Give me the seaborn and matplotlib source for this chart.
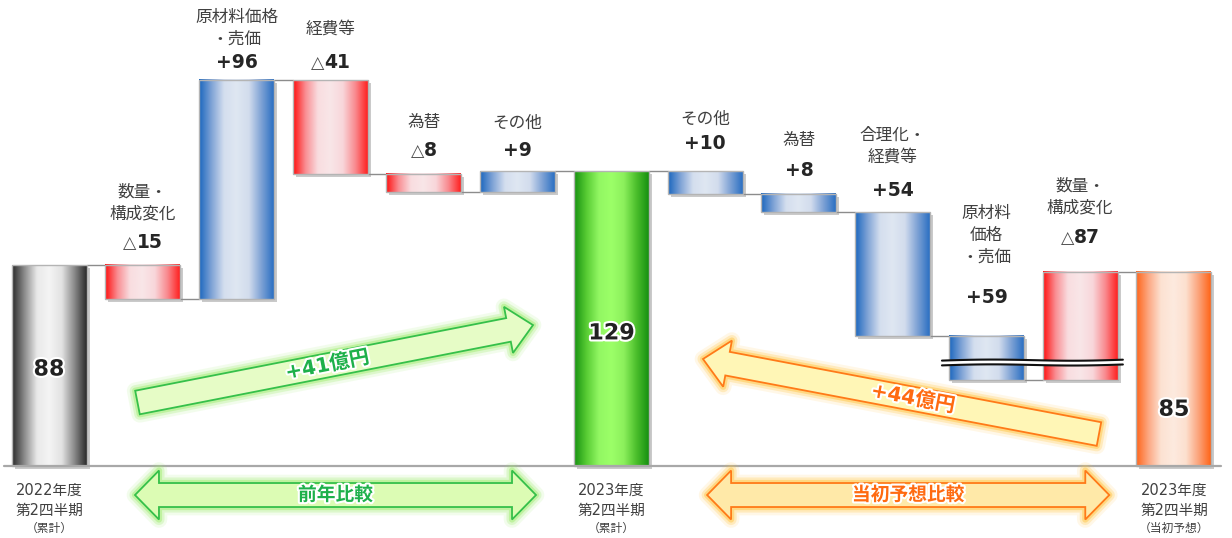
import numpy as np
import pandas as pd
import matplotlib
matplotlib.use("Agg")
import matplotlib.pyplot as plt
import seaborn as sns
from matplotlib.colors import LinearSegmentedColormap
from matplotlib.patches import Polygon, Rectangle
from matplotlib import patheffects as pe
from matplotlib.transforms import IdentityTransform, offset_copy
from matplotlib.offsetbox import TextArea, HPacker, AnnotationBbox

# ---------------- data ----------------
start_total = 88                     # 2022年度 第2四半期（累計）
yoy_items = ["数量・\n構成変化", "原材料価格\n・売価", "経費等", "為替", "その他"]
yoy_values = [-15, 96, -41, -8, 9]
mid_total = 129                      # 2023年度 第2四半期（累計）
plan_items = ["その他", "為替", "合理化・\n経費等", "原材料\n価格\n・売価", "数量・\n構成変化"]
plan_values = [10, 8, 54, 59, -87]   # 実績 − 当初予想
end_total = 85                       # 2023年度 第2四半期（当初予想）
total_names = ["2022年度\n第2四半期", "2023年度\n第2四半期", "2023年度\n第2四半期"]
total_notes = ["（累計）", "（累計）", "（当初予想）"]
yoy_diff_label = "+41億円"
plan_diff_label = "+44億円"
yoy_caption = "前年比較"
plan_caption = "当初予想比較"

# ---------------- style ----------------
sns.set_style("white")
plt.rcParams["font.family"] = ["DejaVu Sans", "Noto Sans CJK JP"]

W, H = 1232, 538
fig = plt.figure(figsize=(W / 100, H / 100), dpi=100)
ax = fig.add_axes([0, 0, 1, 1])

# ---------------- waterfall geometry ----------------
kinds, starts, ends, names, shown = [], [], [], [], []
kinds.append("t0"); starts.append(0); ends.append(start_total); names.append(None); shown.append(start_total)
lvl = start_total
for n, v in zip(yoy_items, yoy_values):
    kinds.append("up" if v > 0 else "down"); starts.append(lvl); ends.append(lvl + v)
    names.append(n); shown.append(v); lvl += v
kinds.append("t1"); starts.append(0); ends.append(mid_total); names.append(None); shown.append(mid_total)
lvl = mid_total
for n, v in zip(plan_items, plan_values):
    kinds.append("up" if v > 0 else "down"); starts.append(lvl); ends.append(lvl - v)
    names.append(n); shown.append(v); lvl -= v
kinds.append("t2"); starts.append(0); ends.append(end_total); names.append(None); shown.append(end_total)

break_floor = 37.7   # display floor for bars that cross below the visible range
lo = np.minimum(starts, ends).astype(float)
hi = np.maximum(starts, ends).astype(float)
broken = np.array([(k in ("up", "down")) and l < break_floor for k, l in zip(kinds, lo)])
lo_disp = np.where(broken, break_floor, lo)

n_bars = len(kinds)
df = pd.DataFrame({"pos": np.arange(n_bars), "height": hi - lo_disp})

sns.barplot(data=df, x="pos", y="height", bottom=lo_disp, width=0.8, ax=ax,
            color="white", edgecolor="#b4b4b4", linewidth=1.0, errorbar=None, zorder=3)

xmin, xmax = -0.5227, 12.619
ymin, ymax = -31.52, 204.03
ax.set_xlim(xmin, xmax)
ax.set_ylim(ymin, ymax)
ax.axis("off")

cmaps = {
    "t0": ["#2a2a2a", "#8c8c8c", "#e9e9e9", "#f4f4f4", "#e2e2e2", "#8a8a8a", "#2a2a2a"],
    "t1": ["#169010", "#58cc34", "#92f763", "#9cff68", "#8cf05c", "#4cbf2c", "#169010"],
    "t2": ["#ff6418", "#fca883", "#fde2d2", "#fdeadf", "#fde0cf", "#fba47c", "#ff6418"],
    "up": ["#1a66be", "#7fa3d6", "#d4deee", "#dfe7f2", "#d2dced", "#7ea2d5", "#2a6fc2"],
    "down": ["#ff0f0f", "#f98e93", "#f9dde0", "#f9e6e8", "#f8d6da", "#f98a8f", "#ff2020"],
}
grad = np.linspace(0, 1, 256)[None, :]
shadow_tr = offset_copy(ax.transData, fig=fig, x=3, y=-3, units="dots")
bars = [p for p in ax.patches]
for i, p in enumerate(bars):
    x0, w, y0, h = p.get_x(), p.get_width(), p.get_y(), p.get_height()
    cm = LinearSegmentedColormap.from_list(f"c{i}", cmaps[kinds[i]])
    ax.imshow(grad, extent=(x0, x0 + w, y0, y0 + h), aspect="auto", cmap=cm,
              interpolation="bicubic", zorder=2)
    ax.add_patch(Rectangle((x0, y0), w, h, transform=shadow_tr, facecolor="#8a8a8a",
                           edgecolor="none", alpha=0.45, zorder=1))
    p.set_facecolor("none")
ax.set_xlim(xmin, xmax)
ax.set_ylim(ymin, ymax)

# connectors
end_disp = [max(e, break_floor) if b else e for e, b in zip(ends, broken)]
for i in range(n_bars - 1):
    x_a = bars[i].get_x() + bars[i].get_width()
    x_b = bars[i + 1].get_x()
    ax.plot([x_a, x_b], [end_disp[i], end_disp[i]], color="#8c8c8c", lw=1.0, zorder=1.5)

# baseline
ax.plot([xmin + 0.04, xmax - 0.12], [0, 0], color="#a8a8a8", lw=1.6, zorder=4)

# break marks across the clipped bars
bidx = np.where(broken)[0]
if len(bidx):
    bx0 = bars[bidx[0]].get_x() - 0.075
    bx1 = bars[bidx[-1]].get_x() + bars[bidx[-1]].get_width() + 0.055
    xs = np.linspace(bx0, bx1, 120)
    yc = 45.1 + 0.35 * np.sin((xs - bx0) / (bx1 - bx0) * 2 * np.pi) + 0.4 * (xs - bx0) / (bx1 - bx0)
    ax.fill_between(xs, yc - 1.05, yc + 1.05, color="white", zorder=5, lw=0)
    ax.plot(xs, yc + 1.05, color="#111111", lw=1.5, zorder=6)
    ax.plot(xs, yc - 1.05, color="#111111", lw=1.5, zorder=6)

# value & category labels
val_dy = [None, 23, 18, 18, 23, 21, None, 28, 24, 22, 38, 34, None]
cat_dy = [None, 29, 24, 33, 29, 28, None, 25, 30, 34, 42, 31, None]
for i in range(n_bars):
    if kinds[i].startswith("t"):
        continue
    top = hi[i]
    v = shown[i]
    items = []
    if v < 0:
        items.append(TextArea("△", textprops=dict(size=12.5, color="#505050")))
        items.append(TextArea(f"{abs(v)}", textprops=dict(size=13.5, weight="bold", color="#262626")))
    else:
        items.append(TextArea(f"+{v}", textprops=dict(size=13.5, weight="bold", color="#262626")))
    pack = HPacker(children=items, align="baseline", pad=0, sep=0)
    ab = AnnotationBbox(pack, (i, top), xybox=(0, val_dy[i]), boxcoords="offset pixels",
                        frameon=False, box_alignment=(0.5, 0.5), zorder=7)
    ax.add_artist(ab)
    nl = names[i].count("\n")
    ax.annotate(names[i], (i, top), xytext=(0, val_dy[i] + cat_dy[i] + nl * 10.5),
                textcoords="offset pixels", ha="center", va="center", fontsize=12,
                color="#404040", linespacing=1.25, zorder=7)

# totals: inside numbers and bottom captions
inside_frac = [0.48, 0.45, 0.29]
tot_idx = [i for i, k in enumerate(kinds) if k.startswith("t")]
for j, i in enumerate(tot_idx):
    ax.text(i, hi[i] * inside_frac[j], f"{shown[i]}", ha="center", va="center",
            fontsize=16, weight="bold", color="#222222", zorder=7,
            path_effects=[pe.withStroke(linewidth=3, foreground="white")])
    l1, l2 = total_names[j].split("\n")
    ax.annotate(l1, (i, 0), xytext=(0, -24), textcoords="offset pixels", ha="center",
                va="center", fontsize=10.5, color="#404040")
    ax.annotate(l2, (i, 0), xytext=(0, -44), textcoords="offset pixels", ha="center",
                va="center", fontsize=10.5, color="#404040")
    ax.annotate(total_notes[j], (i, 0), xytext=(0, -62), textcoords="offset pixels",
                ha="center", va="center", fontsize=8.5, color="#404040")


# ---------------- arrows (built in display space so shapes are not distorted) ----------------
def to_px(pt):
    return ax.transData.transform(pt)


def arrow_poly(p0, p1, shaft_w, head_w, head_l, double=False):
    p0, p1 = to_px(p0), to_px(p1)
    d = p1 - p0
    L = np.hypot(*d)
    u = d / L
    n = np.array([-u[1], u[0]])
    hs, hh = shaft_w / 2, head_w / 2
    if double:
        pts = [p0, p0 + u * head_l + n * hh, p0 + u * head_l + n * hs,
               p1 - u * head_l + n * hs, p1 - u * head_l + n * hh, p1,
               p1 - u * head_l - n * hh, p1 - u * head_l - n * hs,
               p0 + u * head_l - n * hs, p0 + u * head_l - n * hh]
    else:
        pts = [p0 + n * hs, p1 - u * head_l + n * hs, p1 - u * head_l + n * hh, p1,
               p1 - u * head_l - n * hh, p1 - u * head_l - n * hs, p0 - n * hs]
    return np.array(pts), p0, p1


def draw_arrow(p0, p1, fill, edge, glow, double=False, shaft=24, head=47, headl=25):
    pts, a, b = arrow_poly(p0, p1, shaft, head, headl, double)
    poly = Polygon(pts, closed=True, transform=IdentityTransform(), facecolor=fill,
                   edgecolor=edge, lw=1.3, zorder=8)
    poly.set_path_effects([pe.Stroke(linewidth=12, foreground=glow, alpha=0.12, joinstyle="round"),
                           pe.Stroke(linewidth=8, foreground=glow, alpha=0.25, joinstyle="round"),
                           pe.Stroke(linewidth=4.5, foreground=glow, alpha=0.45, joinstyle="round"),
                           pe.Normal()])
    ax.add_patch(poly)
    return a, b


def label_on(a, b, frac, text, color, size=14, flip=False):
    pos = a + (b - a) * frac
    d = b - a
    ang = np.degrees(np.arctan2(d[1], d[0]))
    if flip:
        ang += 180
    dpos = ax.transData.inverted().transform(pos)
    ax.text(dpos[0], dpos[1], text, rotation=ang, rotation_mode="anchor", ha="center",
            va="center", fontsize=size, weight="bold", color=color, zorder=9,
            path_effects=[pe.withStroke(linewidth=3, foreground="white")])


g_fill, g_edge, g_glow, g_txt = "#e6fcc6", "#35c04a", "#9cec6a", "#1db04a"
o_fill, o_edge, o_glow, o_txt = "#fff6b6", "#ff7a18", "#ffc43c", "#ff6a10"

a, b = draw_arrow((0.944, 27.8), (5.163, 61.7), g_fill, g_edge, g_glow)
label_on(a, b, 0.48, yoy_diff_label, g_txt, size=14.5)
a, b = draw_arrow((11.20, 14.0), (6.976, 46.85), o_fill, o_edge, o_glow)
label_on(a, b, 0.47, plan_diff_label, o_txt, size=14.5, flip=True)

a, b = draw_arrow((0.917, -12.7), (5.195, -12.7), "#dcfcb4", g_edge, g_glow, double=True,
                  shaft=24, head=49, headl=24)
label_on(a, b, 0.5, yoy_caption, g_txt, size=13.5)
a, b = draw_arrow((7.02, -12.7), (11.31, -12.7), "#ffe9a8", o_edge, o_glow, double=True,
                  shaft=24, head=49, headl=24)
label_on(a, b, 0.5, plan_caption, o_txt, size=13.5)

fig.savefig("out.png", dpi=100, facecolor="white")
